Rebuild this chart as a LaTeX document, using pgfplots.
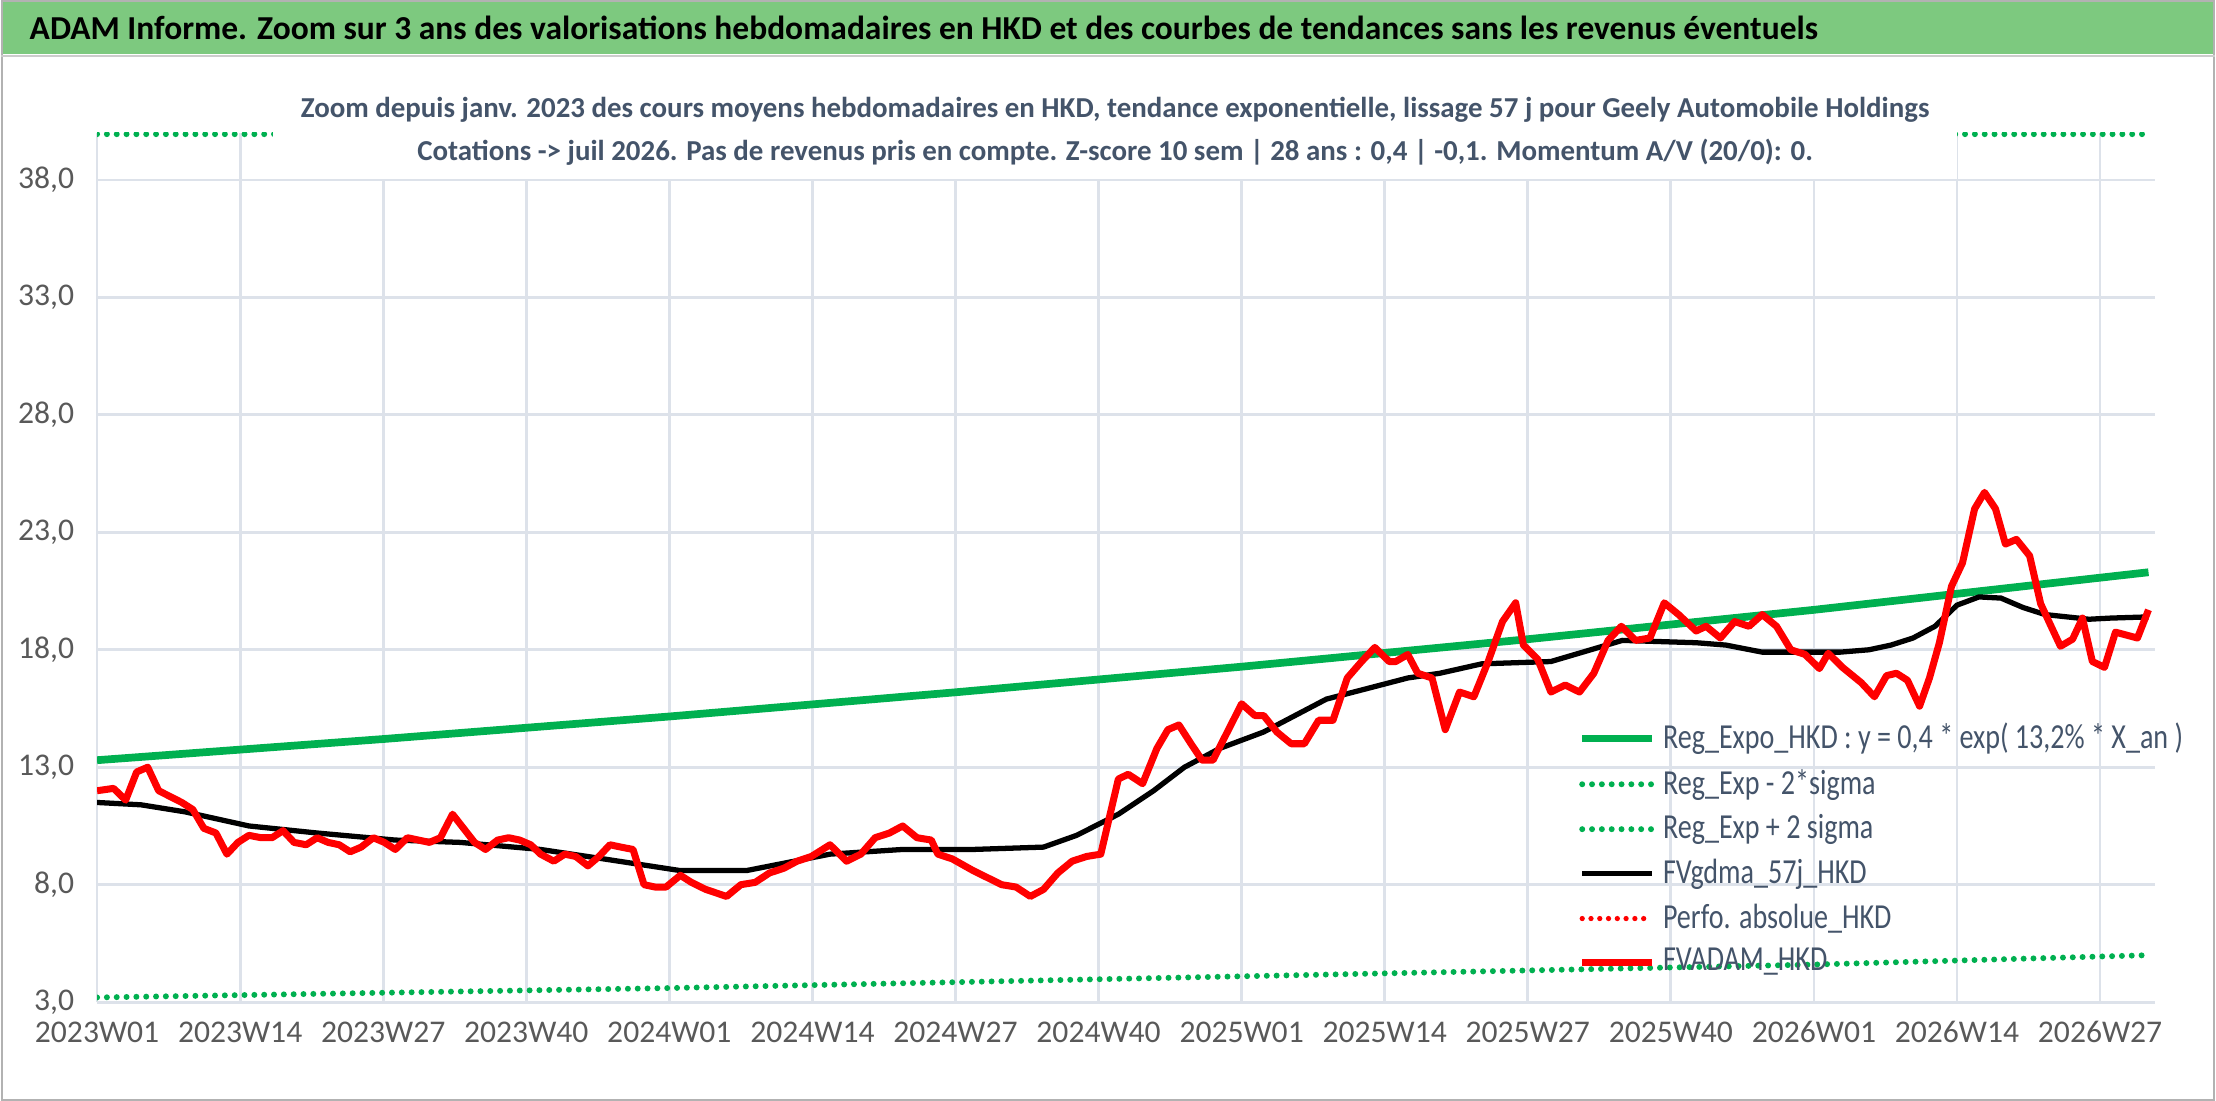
\documentclass[border=0pt]{standalone}
\usepackage{pgfplots}
\pgfplotsset{compat=1.18}
\usepackage{fontspec}
\setmainfont{Carlito}
\definecolor{hdr}{HTML}{7DC97F}
\definecolor{txt}{HTML}{44546A}
\definecolor{tick}{HTML}{595959}
\definecolor{grd}{HTML}{DDE2EA}
\definecolor{gr}{HTML}{00B050}
\newcommand\lt[1]{\scalebox{0.8}[1]{#1}}
\begin{document}
\begin{tikzpicture}[x=1cm,y=1cm]
\fill[white] (0,0) rectangle (22.16,11.02);
\fill[hdr] (0,10.48) rectangle (22.16,11.02);
\draw[gray!60] (0.01,0.01) rectangle (22.15,11.01);
\draw[gray!40,line width=0.6pt] (0,10.46)--(22.16,10.46);
\node[anchor=west,inner sep=0pt] at (0.28,10.74) {\resizebox{17.9cm}{!}{\bfseries\fontsize{15}{18}\selectfont ADAM Informe. Zoom sur 3 ans des valorisations hebdomadaires en HKD et des courbes de tendances sans les revenus éventuels}};
\begin{axis}[at={(0.961cm,0.989cm)},anchor=south west,scale only axis,
 width=20.6cm,height=8.70cm,xmin=0,xmax=187,ymin=3,ymax=40,
 ytick={3,8,13,18,23,28,33,38},
 xtick={0,13,26,39,52,65,78,91,104,117,130,143,156,169,182},
 xticklabels={2023W01,2023W14,2023W27,2023W40,2024W01,2024W14,2024W27,2024W40,2025W01,2025W14,2025W27,2025W40,2026W01,2026W14,2026W27},
 yticklabel style={xshift=-3pt,/pgf/number format/.cd,fixed,fixed zerofill,precision=1,use comma},
 /pgf/number format/assume math mode=true,
 ticklabel style={font=\fontsize{9}{11}\selectfont,text=tick},
 xticklabel style={yshift=-2pt},
 grid=major,major grid style={grd,line width=0.8pt},
 axis line style={draw=none},tick style={draw=none},
 clip mode=individual,
 legend style={at={(rel axis cs:0.716,0.338)},anchor=north west,draw=none,fill=none,
   font=\fontsize{10}{11}\selectfont,text=txt,row sep=0.3pt,cells={anchor=west},inner sep=2pt},
 legend cell align=left,
 legend image code/.code={\draw[#1] (0cm,0cm)--(0.7cm,0cm);},
]
\addplot[gr,line width=2.2pt] coordinates {(0,13.3)(26,14.2)(52,15.16)(78,16.19)(104,17.28)(130,18.45)(156,19.70)(186.4,21.3)};
\addlegendentry{\lt{Reg\_Expo\_HKD : y = 0,4 * exp( 13,2\% *  X\_an )}}
\addplot[gr,line width=1.7pt,line cap=round,dash pattern=on 0pt off 2.8pt] coordinates {(0,3.2)(26,3.4)(52,3.6)(78,3.85)(104,4.1)(130,4.35)(156,4.6)(186.4,5.0)};
\addlegendentry{\lt{Reg\_Exp - 2*sigma}}
\addplot[gr,line width=1.7pt,line cap=round,dash pattern=on 0pt off 2.8pt] coordinates {(0,39.95)(186.4,39.95)};
\addlegendentry{\lt{Reg\_Exp + 2 sigma}}
\addplot[black,line width=1.5pt] coordinates {(0,11.5)(4,11.4)(8,11.1)(13.8,10.5)(20,10.2)(27.1,9.9)(33,9.8)(40.3,9.5)(46,9.1)(53,8.6)(59,8.6)(66.6,9.3)(73.2,9.5)(79.6,9.5)(86,9.6)(89,10.1)(92.8,11.0)(96,12.0)(98.8,13.0)(102,13.8)(106,14.5)(111.7,15.9)(115,16.3)(119.1,16.8)(122,17.0)(125.8,17.4)(132.1,17.5)(135,17.9)(138.6,18.4)(145.3,18.3)(148,18.2)(151.3,17.9)(158.4,17.9)(161,18.0)(163,18.2)(165,18.5)(167,19.0)(169,19.9)(171,20.25)(173,20.2)(175,19.8)(177,19.5)(179,19.4)(181,19.3)(183,19.35)(186.4,19.4)};
\addlegendentry{\lt{FVgdma\_57j\_HKD}}
\addlegendimage{red,line width=1.5pt,line cap=round,dash pattern=on 0pt off 2.5pt}
\addlegendentry{\lt{Perfo. absolue\_HKD}}
\addplot[red,line width=2pt,line join=round] coordinates {(0,12.0)(1.5,12.1)(2.6,11.6)(3.6,12.8)(4.6,13.0)(5.6,12.0)(7.7,11.5)(8.7,11.2)(9.7,10.4)(10.8,10.2)(11.8,9.3)(12.8,9.8)(13.8,10.1)(14.9,10.0)(15.9,10.0)(16.9,10.3)(17.9,9.8)(19,9.7)(20,10.0)(21,9.8)(22,9.7)(23,9.4)(24,9.6)(25.1,10.0)(26.1,9.8)(27.1,9.5)(28.2,10.0)(29.2,9.9)(30.2,9.8)(31.2,10.0)(32.3,11.0)(33.3,10.4)(34.3,9.8)(35.3,9.5)(36.4,9.9)(37.4,10.0)(38.4,9.9)(39.4,9.7)(40.3,9.3)(41.5,9.0)(42.5,9.3)(43.5,9.2)(44.6,8.8)(45.6,9.2)(46.6,9.7)(47.6,9.6)(48.7,9.5)(49.7,8.0)(50.7,7.9)(51.7,7.9)(53,8.4)(54,8.1)(55.3,7.8)(57.2,7.5)(58.5,8.0)(59.8,8.1)(61.1,8.5)(62.4,8.7)(63.6,9.0)(64.9,9.2)(66.6,9.7)(68.1,9.0)(69.4,9.3)(70.7,10.0)(72,10.2)(73.2,10.5)(74.5,10.0)(75.8,9.9)(76.4,9.3)(77.7,9.1)(79.6,8.6)(80.9,8.3)(82.2,8.0)(83.5,7.9)(84.8,7.5)(86,7.8)(87.3,8.5)(88.6,9.0)(89.9,9.2)(91.2,9.3)(92.8,12.5)(93.7,12.7)(95,12.3)(96.3,13.8)(97.3,14.6)(98.3,14.8)(99.4,14.0)(100.4,13.3)(101.4,13.3)(102.7,14.5)(104,15.7)(105.2,15.2)(106,15.2)(107.2,14.5)(108.5,14.0)(109.7,14.0)(111,15.0)(112.3,15.0)(113.6,16.8)(114.9,17.5)(116.1,18.1)(117.4,17.5)(118,17.5)(119.1,17.8)(120,17.0)(121.3,16.8)(122.5,14.6)(123.8,16.2)(125.1,16.0)(126.4,17.5)(127.7,19.2)(128.9,20.0)(129.6,18.2)(130.9,17.6)(132.1,16.2)(133.4,16.5)(134.7,16.2)(136,17.0)(137.3,18.4)(138.5,19.0)(139.8,18.4)(141.1,18.5)(142.4,20.0)(143.7,19.5)(145.3,18.8)(146.2,19.0)(147.5,18.5)(148.8,19.2)(150.1,19.0)(151.3,19.5)(152.6,19.0)(153.9,18.0)(155.2,17.8)(156.5,17.2)(157.3,17.85)(158.6,17.25)(160.3,16.6)(161.5,16.0)(162.6,16.9)(163.5,17.0)(164.5,16.7)(165.6,15.6)(166.5,16.8)(167.4,18.3)(168.5,20.7)(169.5,21.7)(170.6,24.0)(171.5,24.7)(172.5,24.0)(173.4,22.5)(174.4,22.7)(175.6,22.0)(176.6,19.96)(177.5,19.05)(178.4,18.15)(179.5,18.45)(180.4,19.35)(181.3,17.5)(182.4,17.25)(183.4,18.75)(185.4,18.5)(186.4,19.7)};
\addlegendentry{\lt{FVADAM\_HKD}}
\node[fill=white,inner xsep=8pt,inner ysep=3pt] at (axis cs:92.5,40.0) {\resizebox{16.3cm}{!}{\begin{tabular}{@{}c@{}}\bfseries\color{txt}\fontsize{13}{22}\selectfont Zoom depuis janv. 2023 des cours moyens hebdomadaires en HKD, tendance exponentielle, lissage 57 j pour Geely Automobile Holdings\\[6pt]\bfseries\color{txt}\fontsize{13}{22}\selectfont Cotations -> juil 2026. Pas de revenus pris en compte. Z-score 10 sem | 28 ans : 0,4 | -0,1. Momentum A/V (20/0): 0.\end{tabular}}};
\end{axis}
\end{tikzpicture}
\end{document}
